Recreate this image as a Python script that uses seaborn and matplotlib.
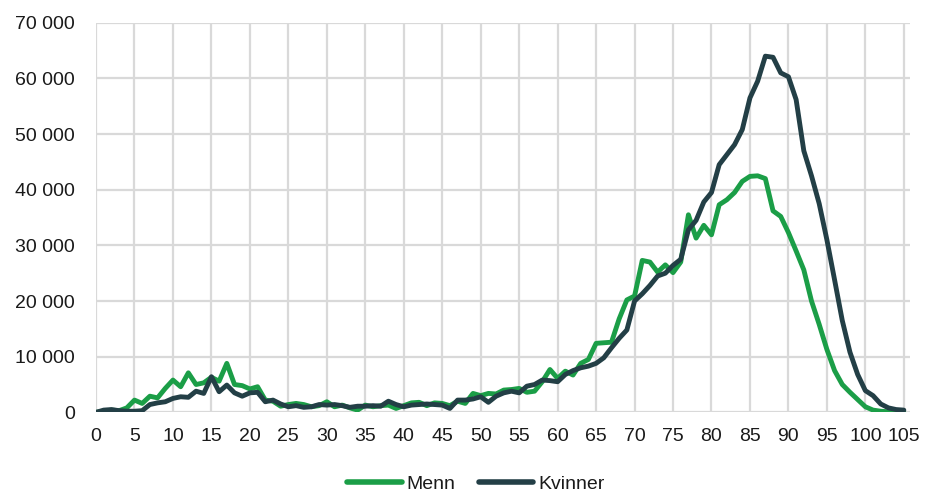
import matplotlib
matplotlib.use("Agg")
import matplotlib.pyplot as plt
import matplotlib.ticker as mticker
import numpy as np
import pandas as pd
import seaborn as sns

# Age 0..105
ages = list(range(0, 106))

menn = [
    0, 200, 400, 300, 800, 2200, 1600, 2900, 2600, 4300,
    5800, 4600, 7100, 5000, 5300, 6300, 5600, 8800, 5000, 4800,
    4200, 4600, 2200, 2000, 1100, 1400, 1600, 1400, 1000, 1200,
    1900, 1000, 1300, 800, 400, 1300, 1000, 1200, 1300, 700,
    1200, 1700, 1800, 1200, 1700, 1600, 1200, 2000, 1600, 3400,
    3000, 3400, 3300, 4000, 4100, 4300, 3600, 3800, 5500, 7700,
    6100, 7400, 6700, 8800, 9500, 12400, 12500, 12600, 16800, 20200,
    20900, 27300, 27000, 25200, 26500, 25100, 27000, 35500, 31300, 33600,
    31900, 37300, 38200, 39500, 41500, 42400, 42500, 42000, 36200, 35200,
    32300, 29000, 25600, 20000, 15800, 11300, 7500, 5000, 3600, 2300,
    1000, 400, 200, 100, 50, 0,
]

kvinner = [
    0, 400, 500, 300, 200, 200, 300, 1400, 1700, 1900,
    2500, 2800, 2700, 3800, 3400, 6400, 3700, 4900, 3500, 2900,
    3500, 3600, 1900, 2200, 1500, 1000, 1200, 900, 1000, 1400,
    1300, 1400, 1200, 900, 1100, 1100, 1200, 1100, 2000, 1400,
    1000, 1300, 1400, 1500, 1400, 1300, 700, 2200, 2200, 2400,
    2800, 1800, 2900, 3500, 3800, 3500, 4700, 5000, 5800, 5700,
    5500, 6800, 7500, 8000, 8300, 8800, 9800, 11600, 13300, 14800,
    20000, 21300, 22800, 24500, 25000, 26400, 27500, 32800, 34500, 37800,
    39500, 44500, 46300, 48100, 50800, 56500, 59500, 64000, 63800, 61000,
    60300, 56200, 47000, 42500, 37500, 31000, 23800, 16500, 10800, 6800,
    3900, 3000, 1500, 800, 500, 400,
]

series_names = ["Menn", "Kvinner"]
colors = {"Menn": "#1b9e47", "Kvinner": "#233f46"}

df = pd.concat([
    pd.DataFrame({"alder": ages, "antall": menn, "kjonn": "Menn"}),
    pd.DataFrame({"alder": ages, "antall": kvinner, "kjonn": "Kvinner"}),
])

sns.set_theme(style="white")
plt.rcParams["font.family"] = ["Liberation Sans", "DejaVu Sans"]

fig = plt.figure(figsize=(9.26, 4.95), dpi=100)
ax = fig.add_axes([0.1037, 0.167, 0.879, 0.787])

sns.lineplot(data=df, x="alder", y="antall", hue="kjonn", hue_order=series_names,
             palette=colors, linewidth=3.5, ax=ax, legend=False,
             solid_joinstyle="round", solid_capstyle="round")

ax.set_xlim(0, 105.8)
ax.set_ylim(0, 70000)
ax.set_xticks(range(0, 106, 5))
ax.set_yticks(range(0, 70001, 10000))
ax.yaxis.set_major_formatter(mticker.FuncFormatter(lambda v, p: f"{int(v):,}".replace(",", " ")))
ax.grid(True, color="#d9d9d9", linewidth=1.6)
ax.set_axisbelow(True)
for s in ax.spines.values():
    s.set_visible(False)
ax.tick_params(axis="both", length=0, labelsize=14, colors="#1a1a1a")
ax.tick_params(axis="y", pad=15)
ax.tick_params(axis="x", pad=11)
ax.set_xlabel("")
ax.set_ylabel("")

handles = [plt.Line2D([], [], color=colors[n], linewidth=4, solid_capstyle="round") for n in series_names]
fig.legend(handles, series_names, loc="center", bbox_to_anchor=(0.514, 0.022), ncol=2,
           frameon=False, fontsize=14, handlelength=2.8, handletextpad=0.25,
           columnspacing=1.2, labelcolor="#1a1a1a")

fig.savefig("out.png", dpi=100)
